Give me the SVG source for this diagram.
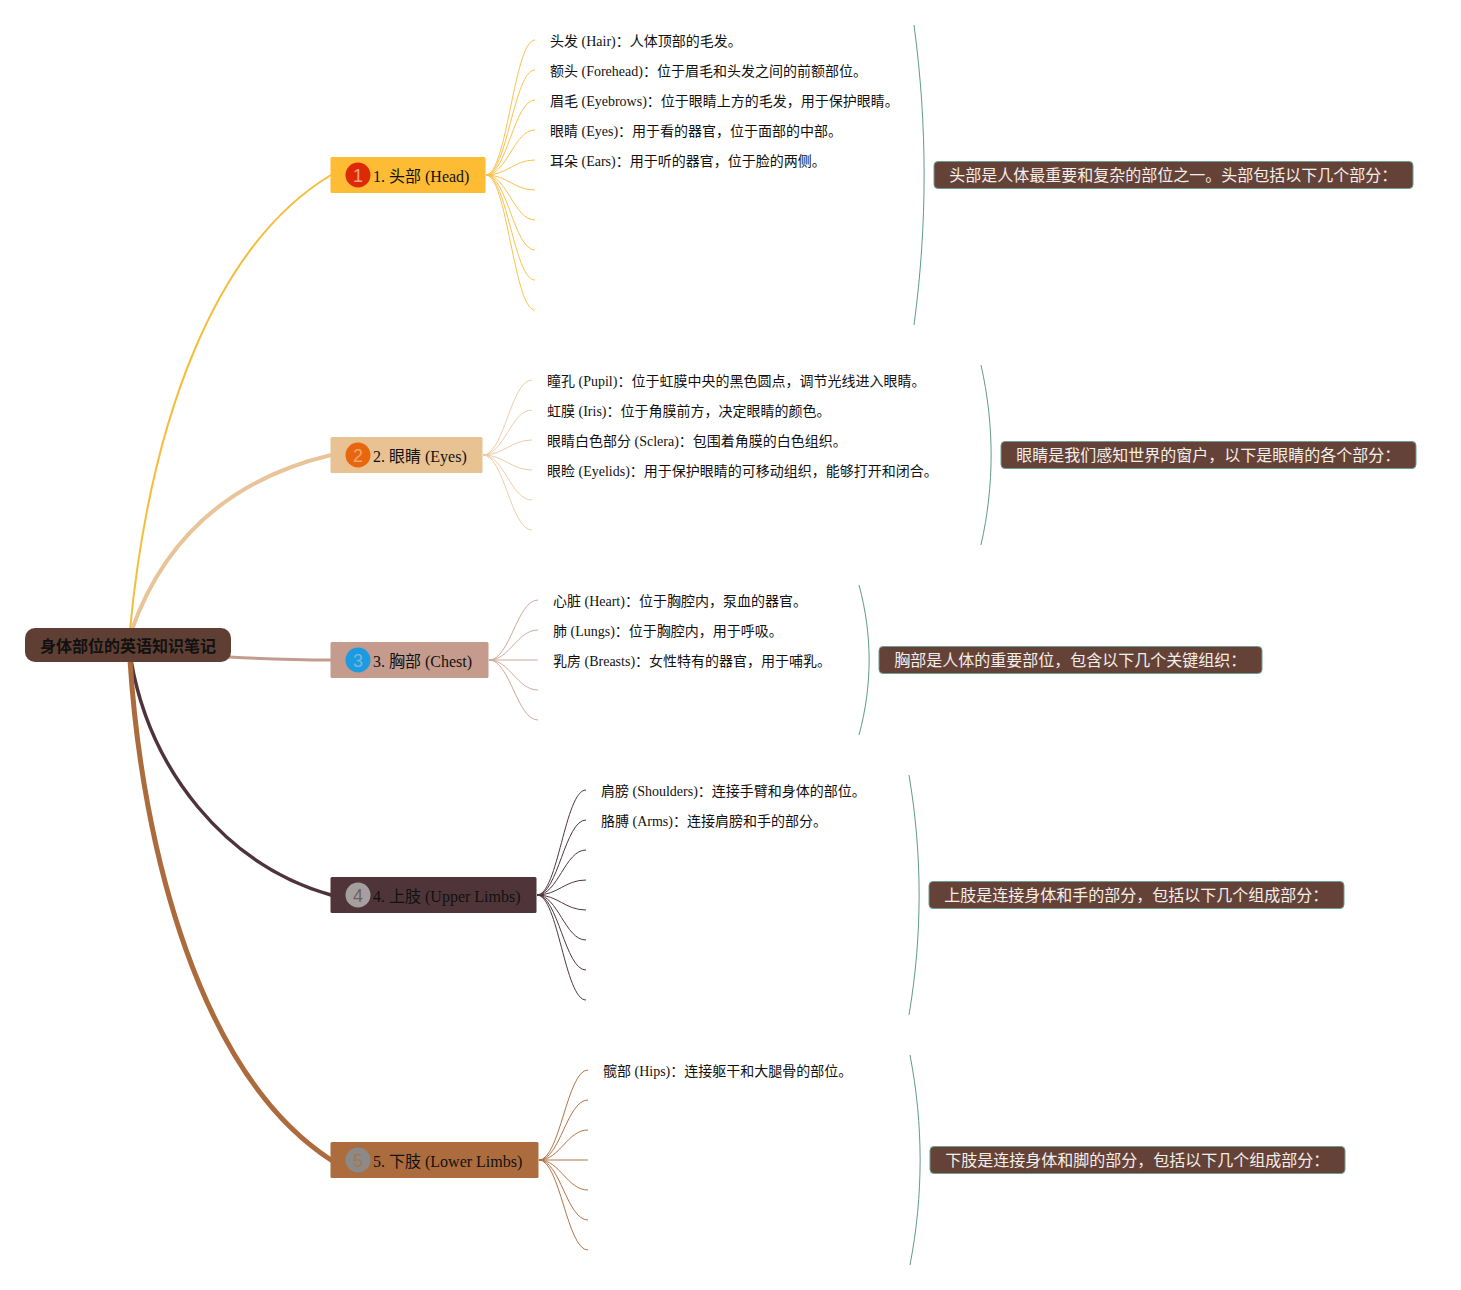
<svg xmlns="http://www.w3.org/2000/svg" width="1461" height="1290" viewBox="0 0 1461 1290">
<style>
text{font-family:"Liberation Serif","Noto Sans CJK SC",serif;fill:#111}
.leaf{font-size:14px}
.topic{font-size:16px}
.num{font-family:"Liberation Sans","Noto Sans CJK SC",sans-serif;font-size:18px;text-anchor:middle}
.note{font-size:16px;fill:#f4efe9}
.noteb{fill:#654238;stroke:#6f9f92;stroke-width:1}
.main{fill:none;stroke-linecap:round}
.fan{fill:none;stroke-width:1}
.brace{fill:none;stroke:#5f9a8b;stroke-width:1}
.f1{stroke:#fac24d}.f2{stroke:#eccda6}.f3{stroke:#cfa99c}.f4{stroke:#4f363b}.f5{stroke:#b57344}
</style>
<g id="connectors">
<path class="main" d="M130 630C150 420 215 245 331 175" stroke="#f5bd3c" stroke-width="2"/>
<path class="main" d="M131 632C165 535 235 478 331 455" stroke="#e8c498" stroke-width="4"/>
<path class="main" d="M229 657C265 659 295 660 331 660" stroke="#c49c8f" stroke-width="3"/>
<path class="main" d="M131 660C150 770 225 865 331 895" stroke="#4e343a" stroke-width="3.5"/>
<path class="main" d="M130 660C142 850 200 1075 331 1160" stroke="#ac6b3c" stroke-width="5"/>
<g class="fan f1">
<path d="M486 175C507 175 514 40 535 40"/><path d="M486 175C507 175 514 70 535 70"/><path d="M486 175C507 175 514 100 535 100"/><path d="M486 175C507 175 514 130 535 130"/><path d="M486 175C507 175 514 160 535 160"/><path d="M486 175C507 175 514 190 535 190"/><path d="M486 175C507 175 514 220 535 220"/><path d="M486 175C507 175 514 250 535 250"/><path d="M486 175C507 175 514 280 535 280"/><path d="M486 175C507 175 514 310 535 310"/>
</g>
<g class="fan f2">
<path d="M483 455C504 455 511 380 532 380"/><path d="M483 455C504 455 511 410 532 410"/><path d="M483 455C504 455 511 440 532 440"/><path d="M483 455C504 455 511 470 532 470"/><path d="M483 455C504 455 511 500 532 500"/><path d="M483 455C504 455 511 530 532 530"/>
</g>
<g class="fan f3">
<path d="M489 660C510 660 517 600 538 600"/><path d="M489 660C510 660 517 630 538 630"/><path d="M489 660L538 660"/><path d="M489 660C510 660 517 690 538 690"/><path d="M489 660C510 660 517 720 538 720"/>
</g>
<g class="fan f4">
<path d="M537 895C558 895 565 790 586 790"/><path d="M537 895C558 895 565 820 586 820"/><path d="M537 895C558 895 565 850 586 850"/><path d="M537 895C558 895 565 880 586 880"/><path d="M537 895C558 895 565 910 586 910"/><path d="M537 895C558 895 565 940 586 940"/><path d="M537 895C558 895 565 970 586 970"/><path d="M537 895C558 895 565 1000 586 1000"/>
</g>
<g class="fan f5">
<path d="M539 1160C560 1160 567 1070 588 1070"/><path d="M539 1160C560 1160 567 1100 588 1100"/><path d="M539 1160C560 1160 567 1130 588 1130"/><path d="M539 1160L588 1160"/><path d="M539 1160C560 1160 567 1190 588 1190"/><path d="M539 1160C560 1160 567 1220 588 1220"/><path d="M539 1160C560 1160 567 1250 588 1250"/>
</g>
<path class="brace" d="M914 25C927.500 125 927.500 225 914 325"/>
<path class="brace" d="M981 365C994.500 425 994.500 485 981 545"/>
<path class="brace" d="M859 585C872.500 635 872.500 685 859 735"/>
<path class="brace" d="M909 775C922.500 855 922.500 935 909 1015"/>
<path class="brace" d="M910 1055C923.500 1125 923.500 1195 910 1265"/>
</g>
<g id="root">
<rect x="25" y="628" width="206" height="34" rx="10" fill="#5f3f34"/>
<text x="40" y="652" style="font-size:16px;font-weight:bold">身体部位的英语知识笔记</text>
</g>
<g id="node-1">
<rect x="330.500" y="157" width="155" height="36" rx="1.500" fill="#fdbc33"/>
<circle cx="358" cy="175" r="12.500" fill="#dd2a05"/>
<text class="num" x="358" y="181.500" style="fill:#f2a08c">1</text>
<text class="topic" x="373" y="182">1. 头部 (Head)</text>
</g>
<g id="node-2">
<rect x="330.500" y="437" width="152" height="36" rx="1.500" fill="#e8c293"/>
<circle cx="358" cy="455" r="12.500" fill="#e8660e"/>
<text class="num" x="358" y="461.500" style="fill:#eda873">2</text>
<text class="topic" x="373" y="462">2. 眼睛 (Eyes)</text>
</g>
<g id="node-3">
<rect x="330.500" y="642" width="158" height="36" rx="1.500" fill="#c49b8d"/>
<circle cx="358" cy="660" r="12.500" fill="#1c9be0"/>
<text class="num" x="358" y="666.500" style="fill:#78b8d8">3</text>
<text class="topic" x="373" y="667">3. 胸部 (Chest)</text>
</g>
<g id="node-4">
<rect x="330.500" y="877" width="206" height="36" rx="1.500" fill="#4f353a"/>
<circle cx="358" cy="895" r="12.500" fill="#a5a09f"/>
<text class="num" x="358" y="901.500" style="fill:#6f5f62">4</text>
<text class="topic" x="373" y="902">4. 上肢 (Upper Limbs)</text>
</g>
<g id="node-5">
<rect x="330.500" y="1142" width="208" height="36" rx="1.500" fill="#ad6c3d"/>
<circle cx="358" cy="1160" r="12.500" fill="#8c8a88"/>
<text class="num" x="358" y="1166.500" style="fill:#a8764f">5</text>
<text class="topic" x="373" y="1167">5. 下肢 (Lower Limbs)</text>
</g>
<g id="leaves-1">
<text class="leaf" x="550" y="46">头发 (Hair)：人体顶部的毛发。</text>
<text class="leaf" x="550" y="76">额头 (Forehead)：位于眉毛和头发之间的前额部位。</text>
<text class="leaf" x="550" y="106">眉毛 (Eyebrows)：位于眼睛上方的毛发，用于保护眼睛。</text>
<text class="leaf" x="550" y="136">眼睛 (Eyes)：用于看的器官，位于面部的中部。</text>
<text class="leaf" x="550" y="166">耳朵 (Ears)：用于听的器官，位于脸的两侧。</text>
</g>
<g id="leaves-2">
<text class="leaf" x="547" y="386">瞳孔 (Pupil)：位于虹膜中央的黑色圆点，调节光线进入眼睛。</text>
<text class="leaf" x="547" y="416">虹膜 (Iris)：位于角膜前方，决定眼睛的颜色。</text>
<text class="leaf" x="547" y="446">眼睛白色部分 (Sclera)：包围着角膜的白色组织。</text>
<text class="leaf" x="547" y="476">眼睑 (Eyelids)：用于保护眼睛的可移动组织，能够打开和闭合。</text>
</g>
<g id="leaves-3">
<text class="leaf" x="553" y="606">心脏 (Heart)：位于胸腔内，泵血的器官。</text>
<text class="leaf" x="553" y="636">肺 (Lungs)：位于胸腔内，用于呼吸。</text>
<text class="leaf" x="553" y="666">乳房 (Breasts)：女性特有的器官，用于哺乳。</text>
</g>
<g id="leaves-4">
<text class="leaf" x="601" y="796">肩膀 (Shoulders)：连接手臂和身体的部位。</text>
<text class="leaf" x="601" y="826">胳膊 (Arms)：连接肩膀和手的部分。</text>
</g>
<g id="leaves-5">
<text class="leaf" x="603" y="1076">髋部 (Hips)：连接躯干和大腿骨的部位。</text>
</g>
<g id="note-1">
<rect class="noteb" x="934" y="161.500" width="479" height="27" rx="4"/>
<text class="note" x="949.300" y="181">头部是人体最重要和复杂的部位之一。头部包括以下几个部分：</text>
</g>
<g id="note-2">
<rect class="noteb" x="1001" y="441.500" width="415" height="27" rx="4"/>
<text class="note" x="1016.300" y="461">眼睛是我们感知世界的窗户，以下是眼睛的各个部分：</text>
</g>
<g id="note-3">
<rect class="noteb" x="879" y="646.500" width="383" height="27" rx="4"/>
<text class="note" x="894.300" y="666">胸部是人体的重要部位，包含以下几个关键组织：</text>
</g>
<g id="note-4">
<rect class="noteb" x="929" y="881.500" width="415" height="27" rx="4"/>
<text class="note" x="944.300" y="901">上肢是连接身体和手的部分，包括以下几个组成部分：</text>
</g>
<g id="note-5">
<rect class="noteb" x="930" y="1146.500" width="415" height="27" rx="4"/>
<text class="note" x="945.300" y="1166">下肢是连接身体和脚的部分，包括以下几个组成部分：</text>
</g>
</svg>
